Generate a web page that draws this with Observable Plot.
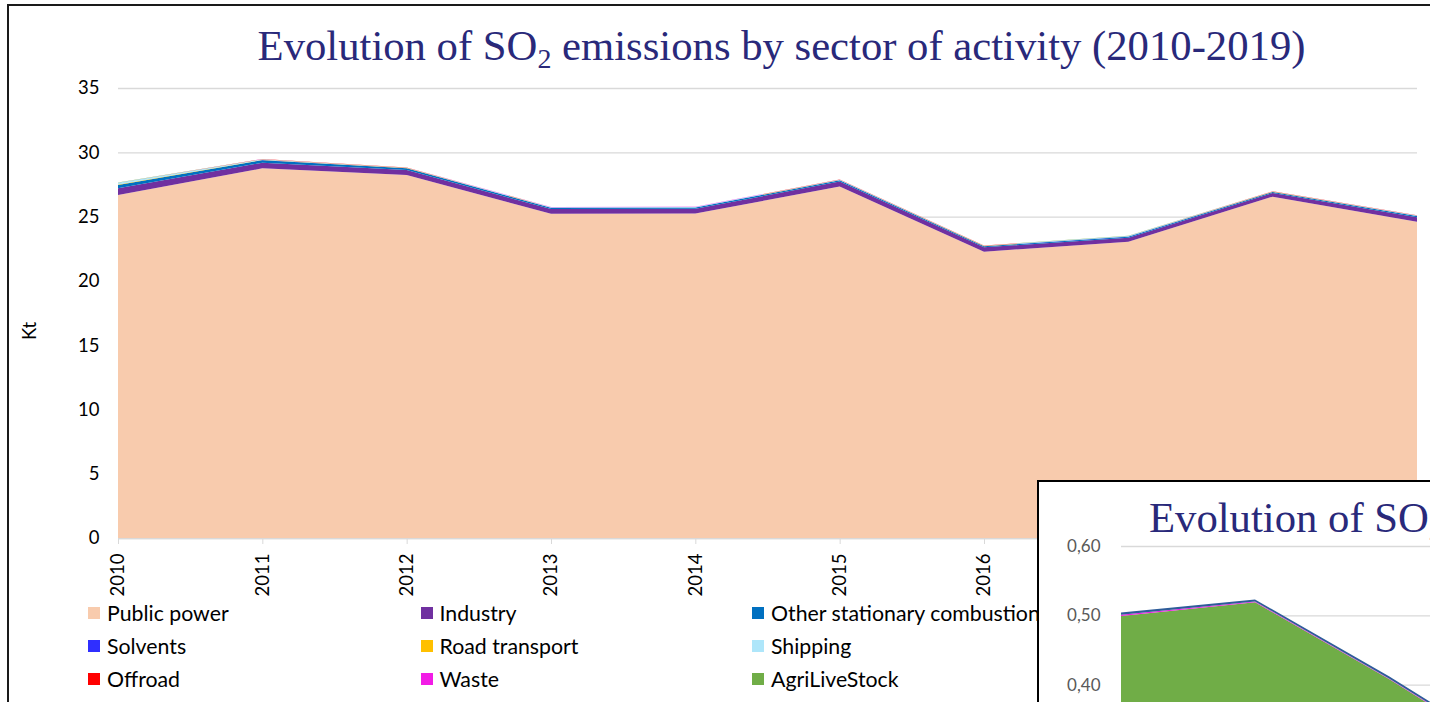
<!DOCTYPE html>
<html><head><meta charset="utf-8">
<script src="https://cdn.jsdelivr.net/npm/d3@7"></script>
<script src="https://cdn.jsdelivr.net/npm/@observablehq/plot@0.6"></script>
<style>
html,body{margin:0;padding:0;background:#fff;}
#page{position:relative;width:1430px;height:702px;overflow:hidden;background:#fff;font-family:Lato,sans-serif;}
.frame{position:absolute;left:7px;top:4px;width:1600px;height:900px;border:2px solid #1a1a1a;}
.title{position:absolute;font-family:"Liberation Serif","Times New Roman",serif;font-size:42.7px;line-height:42px;color:#29297a;white-space:nowrap;}
.sub{font-size:28px;position:relative;top:8px;}
#main{position:absolute;left:0;top:0;}
.kt{position:absolute;left:29px;top:331px;transform:translate(-50%,-50%) rotate(-90deg);font-size:18.5px;color:#000;}
.leg{position:absolute;font-size:21.3px;line-height:20px;color:#000;white-space:nowrap;}
.sw{position:absolute;width:12px;height:12px;}
#inset{position:absolute;left:1037px;top:480px;width:800px;height:600px;border:2px solid #000;background:#fff;overflow:hidden;}
#insetPlot{position:absolute;left:0;top:0;width:1308px;}
</style></head>
<body><div id="page">
<div class="frame"></div>
<div class="title" style="left:781.5px;top:25px;transform:translateX(-50%);">Evolution of SO<span class="sub">2</span> emissions by sector of activity (2010-2019)</div>
<div id="main"></div>
<div class="kt">Kt</div>
<div id="legend"></div>
<div id="inset">
  <div id="insetPlot"></div>
  <div class="title" style="left:110px;top:15px;">Evolution of SO<span class="sub">2</span> emissions</div>
</div>
</div>
<script>
// ---- main chart data (kt) ----
const years = [2010, 2011, 2012, 2013, 2014, 2015, 2016, 2017, 2018, 2019];
const sectors = ["Public power", "Industry", "Other stationary combustion", "Solvents", "Road transport", "Shipping", "Offroad", "Waste", "AgriLiveStock"];
const colors = ["#F8CBAD", "#7030A0", "#0070C0", "#2F2FFF", "#FFC000", "#AEE6FA", "#FF0000", "#F21CE6", "#70AD47"];
const publicPower = [26.68, 28.75, 28.23, 25.22, 25.24, 27.33, 22.27, 23.05, 26.55, 24.60];
const industry    = [0.52, 0.44, 0.39, 0.36, 0.36, 0.39, 0.34, 0.31, 0.28, 0.34];
const otherStat   = [0.26, 0.20, 0.13, 0.10, 0.10, 0.10, 0.08, 0.08, 0.08, 0.10];
const solvents    = [0.004, 0.004, 0.004, 0.004, 0.004, 0.004, 0.004, 0.004, 0.004, 0.004];
const roadTransp  = [0.03, 0.02, 0.02, 0.01, 0.01, 0.01, 0.01, 0.01, 0.01, 0.01];
const shipping    = [0.13, 0.05, 0.03, 0.03, 0.03, 0.03, 0.03, 0.03, 0.03, 0.03];
const offroad     = [0.01, 0.01, 0.01, 0.01, 0.01, 0.01, 0.01, 0.01, 0.01, 0.01];
const waste       = [0.004, 0.004, 0.004, 0.004, 0.004, 0.004, 0.004, 0.004, 0.004, 0.004];
const agri        = [0.005, 0.005, 0.004, 0.004, 0.004, 0.004, 0.004, 0.004, 0.004, 0.004];
const yTicks = [0, 5, 10, 15, 20, 25, 30, 35];

// ---- inset chart data (visible part) ----
const insetYears = [2010, 2011, 2012, 2013];
const insetSectors = ["AgriLiveStock", "Waste", "Other stationary combustion"];
const insetColors = ["#70AD47", "#F21CE6", "#2E5C99"];
const insetAgri  = [0.499, 0.519, 0.408, 0.288];
const insetWaste = [0.002, 0.001, 0.001, 0.001];
const insetOther = [0.003, 0.003, 0.003, 0.003];
const insetTicks = [0.4, 0.5, 0.6];

const series = [publicPower, industry, otherStat, solvents, roadTransp, shipping, offroad, waste, agri];
const rows = sectors.flatMap((s, i) => years.map((y, j) => ({year: y, sector: s, value: series[i][j]})));

const main = Plot.plot({
  width: 1430, height: 610,
  marginLeft: 118, marginRight: 13, marginTop: 88, marginBottom: 72,
  x: {type: "linear", domain: [2010, 2019]},
  y: {domain: [0, 35]},
  color: {domain: sectors, range: colors},
  style: {fontFamily: "Lato, sans-serif", fontSize: "18.5px", background: "transparent", color: "#000", maxWidth: "none"},
  marks: [
    Plot.gridY(yTicks, {stroke: "#d9d9d9", strokeOpacity: 1, strokeWidth: 1.3}),
    Plot.ruleY([0], {stroke: "#d9d9d9", strokeWidth: 1.3}),
    Plot.areaY(rows, {x: "year", y: "value", fill: "sector", z: "sector", order: sectors, curve: "linear"}),
    Plot.axisY(yTicks, {tickSize: 0, tickPadding: 19, label: null, fill: "#000"}),
    Plot.axisX(years, {tickSize: 6, tickPadding: 9, tickRotate: -90, tickFormat: d => String(d), label: null, stroke: "#d9d9d9", fill: "#000"})
  ]
});
document.getElementById("main").appendChild(main);

// legend
const legCols = [88, 420.5, 752];
const legRows = [621, 654, 687];
const legend = document.getElementById("legend");
sectors.forEach((s, i) => {
  const cx = legCols[i % 3], by = legRows[Math.floor(i / 3)];
  const sw = document.createElement("div");
  sw.className = "sw"; sw.style.left = cx + "px"; sw.style.top = (by - 14) + "px"; sw.style.background = colors[i];
  legend.appendChild(sw);
  const t = document.createElement("div");
  t.className = "leg"; t.style.left = (cx + 19) + "px"; t.style.top = (by - 18.5) + "px"; t.textContent = s;
  legend.appendChild(t);
});

// inset
const insetSeries = [insetAgri, insetWaste, insetOther];
const insetRows = insetSectors.flatMap((s, i) => insetYears.map((y, j) => ({year: y, sector: s, value: insetSeries[i][j]})));
const inset = Plot.plot({
  width: 1308, height: 530,
  marginLeft: 82, marginRight: 20, marginTop: 64, marginBottom: 50,
  x: {type: "linear", domain: [2010, 2019], axis: null},
  y: {domain: [0, 0.6]},
  color: {domain: insetSectors, range: insetColors},
  style: {fontFamily: "Lato, sans-serif", fontSize: "17px", background: "transparent", maxWidth: "none"},
  marks: [
    Plot.gridY(insetTicks, {stroke: "#d9d9d9", strokeOpacity: 1, strokeWidth: 1.3}),
    Plot.areaY(insetRows, {x: "year", y: "value", fill: "sector", z: "sector", order: insetSectors, curve: "linear"}),
    Plot.axisY(insetTicks, {tickSize: 0, tickPadding: 21, label: null, fill: "#595959", tickFormat: d => d3.format(".2f")(d).replace(".", ",")})
  ]
});
document.getElementById("insetPlot").appendChild(inset);
</script>
</body></html>
